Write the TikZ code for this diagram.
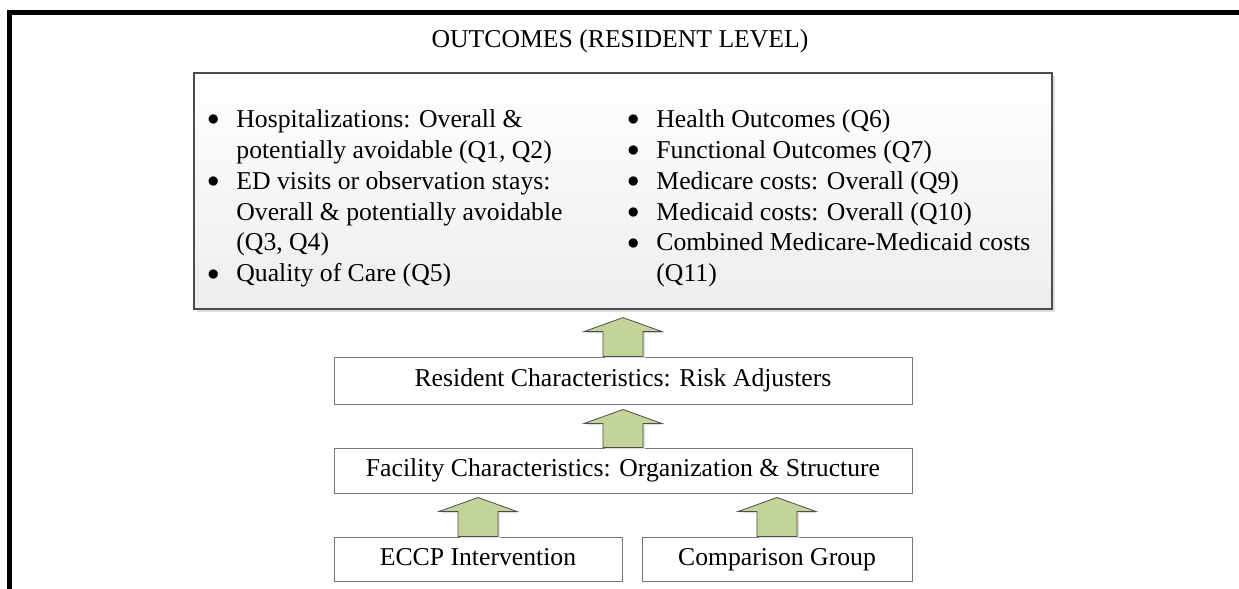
\documentclass[tikz,border=0pt]{standalone}
\usepackage{fontspec}
\setmainfont{Liberation Serif}
\usetikzlibrary{calc,shadows}
\definecolor{arrowgreen}{RGB}{195,212,152}
\definecolor{boxline}{RGB}{120,120,120}
\newcommand{\bul}{\raisebox{0.07em}{$\bullet$}}
\newcommand{\upblock}[3]{%
\draw [fatarrow] ($(#1.north)+(-20,0)$) -- ($(#1.north |- #2.south)+(-20,#3+14)$) -- ($(#1.north |- #2.south)+(-39,#3+14)$) -- ($(#1.north |- #2.south)+(0,#3)$) -- ($(#1.north |- #2.south)+(39,#3+14)$) -- ($(#1.north |- #2.south)+(20,#3+14)$) -- ($(#1.north)+(20,0)$) -- cycle;}
\begin{document}
\begin{tikzpicture}[x=0.5pt,y=-0.5pt,
every node/.style={font=\fontsize{12.85}{15.5}\selectfont},
box/.style={draw=boxline,line width=0.5pt,fill=white,text height=9pt,text depth=2.8pt},
bigbox/.style={draw=black!70,line width=0.6pt,top color=white,bottom color=black!7,drop shadow={shadow xshift=1.5pt,shadow yshift=-1.5pt,fill=black!12,opacity=1}},
fatarrow/.style={draw=black!70,line width=0.4pt,fill=arrowgreen,line join=miter,drop shadow={shadow xshift=1pt,shadow yshift=-0.8pt,fill=black!12,opacity=1}},
list/.style={anchor=base west,inner sep=0pt}]
\useasboundingbox (0,0) rectangle (1239,589);
\draw [line width=2.25pt] (9.5,589) -- (9.5,12.3) -- (1239,12.3);
\node [anchor=base] (title) at (620,47) {OUTCOMES (RESIDENT LEVEL)};
\node [bigbox,minimum width=429pt,minimum height=118pt] (outcomes) at (623,191) {};
\node [list] (leftlist) at (207,127) {\begin{tabular}[t]{@{}p{14.5pt}@{}l@{}}
\bul & Hospitalizations: Overall \& \\
 & potentially avoidable (Q1, Q2) \\
\bul & ED visits or observation stays: \\
 & Overall \& potentially avoidable \\
 & (Q3, Q4) \\
\bul & Quality of Care (Q5)
\end{tabular}};
\node [list] (rightlist) at (627,127) {\begin{tabular}[t]{@{}p{14.5pt}@{}l@{}}
\bul & Health Outcomes (Q6) \\
\bul & Functional Outcomes (Q7) \\
\bul & Medicare costs: Overall (Q9) \\
\bul & Medicaid costs: Overall (Q10) \\
\bul & Combined Medicare-Medicaid costs \\
 & (Q11)
\end{tabular}};
\node [box,minimum width=289pt,minimum height=23.5pt] (resident) at (623,380.5) {Resident Characteristics: Risk Adjusters};
\node [box,minimum width=289pt,minimum height=22.5pt] (facility) at (623,470.5) {Facility Characteristics: Organization \& Structure};
\node [box,minimum width=144pt,minimum height=22pt] (eccp) at (478,559) {ECCP Intervention};
\node [box,minimum width=135pt,minimum height=22pt] (comparison) at (777,559) {Comparison Group};
\upblock{resident}{outcomes}{8}
\upblock{facility}{resident}{5}
\upblock{eccp}{facility}{4}
\upblock{comparison}{facility}{4}
\end{tikzpicture}
\end{document}
